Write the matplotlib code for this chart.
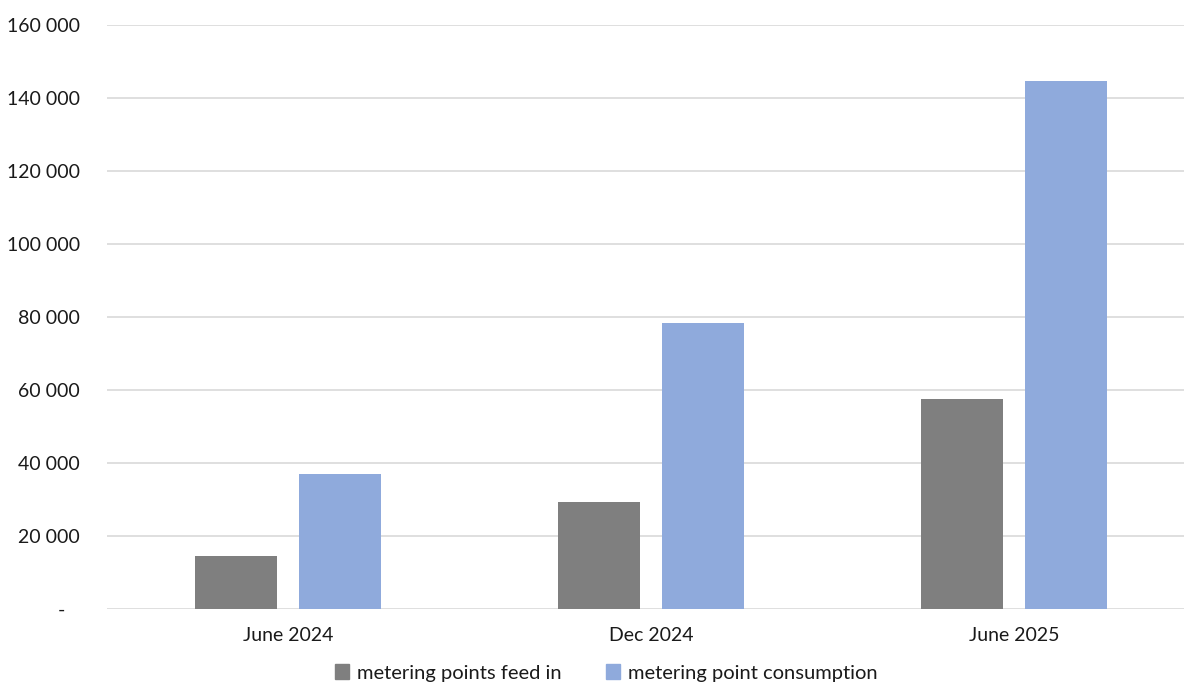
import numpy as np
import matplotlib.pyplot as plt
from matplotlib.ticker import FuncFormatter
from matplotlib.patches import Patch

plt.rcParams['font.family'] = ['Lato', 'DejaVu Sans']

categories = ['June 2024', 'Dec 2024', 'June 2025']
feed_in = [14600, 29300, 57500]
consumption = [37100, 78400, 144700]
series_names = ['metering points feed in', 'metering point consumption']
colors = ['#7F7F7F', '#8FAADC']

fig = plt.figure(figsize=(11.84, 6.84), dpi=100)
# plot area runs past the right edge of the picture, like the source
x0 = 106.5 / 1184
w = 3 * 363 / 1184
ax = fig.add_axes([x0, 1 - 609 / 684, w, (609 - 25) / 684])

x = np.arange(len(categories))
bw = 0.226
off = 0.143
ax.bar(x - off, feed_in, bw, color=colors[0], zorder=3)
ax.bar(x + off, consumption, bw, color=colors[1], zorder=3)

ax.set_xlim(-0.5, 2.5)
ax.set_ylim(0, 160000)
ax.set_yticks(np.arange(0, 160001, 20000))
ax.yaxis.set_major_formatter(FuncFormatter(
    lambda v, p: '-   ' if v == 0 else f'{int(v):,}'.replace(',', ' ')))
ax.grid(axis='y', color='#D9D9D9', linewidth=1.2, zorder=0)
ax.set_xticks(x)
ax.set_xticklabels(categories)
ax.tick_params(axis='both', length=0, labelsize=14, colors='#1A1A1A')
ax.tick_params(axis='y', pad=19)
ax.tick_params(axis='x', pad=13)
for s in ax.spines.values():
    s.set_visible(False)

handles = [Patch(color=c, label=n) for c, n in zip(colors, series_names)]
fig.legend(handles=handles, loc='center', bbox_to_anchor=(606 / 1184, 1 - 673 / 684),
           ncol=2, frameon=False, fontsize=14.5, handlelength=0.7, handleheight=0.7,
           handletextpad=0.4, columnspacing=2.2, labelcolor='#1A1A1A')

fig.savefig('out.png', dpi=100)
